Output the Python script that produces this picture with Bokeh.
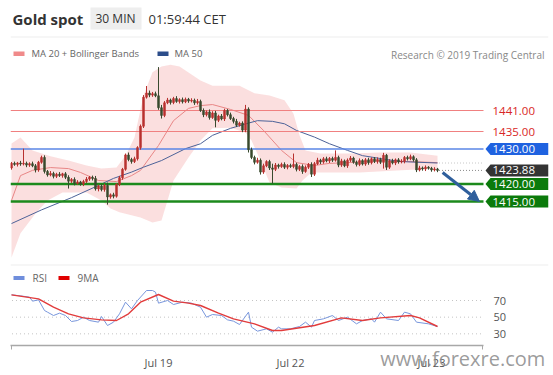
import numpy as np
from bokeh.plotting import figure
from bokeh.models import (ColumnDataSource, Range1d, FixedTicker, Label,
                          BoxAnnotation, Arrow, NormalHead)
from bokeh.embed import file_html
from bokeh.resources import INLINE
from bokeh.core.properties import value

FONT = "Open Sans"

# ---------------- data (30 min candles, index = bar number) ----------------
first_open = 1424.6
closes = [
    1425.9, 1425.6, 1426.0, 1425.7, 1425.9, 1425.4, 1425.8, 1425.2, 1424.0, 1426.2,
    1427.6, 1423.6, 1422.6, 1423.0, 1422.2, 1422.8, 1422.4, 1422.9, 1421.9, 1420.8,
    1421.3, 1420.2, 1420.6, 1420.0, 1420.7, 1421.4, 1421.9, 1421.6, 1418.6, 1419.4,
    1418.4, 1419.6, 1416.3, 1416.9, 1416.5, 1419.9, 1421.8, 1424.2, 1428.3, 1427.0,
    1426.4, 1427.2, 1430.4, 1436.5, 1444.8, 1446.0, 1445.4, 1445.8, 1445.2, 1441.8,
    1439.6, 1443.2, 1444.0, 1443.3, 1444.4, 1443.6, 1444.1, 1443.5, 1444.2, 1443.7,
    1443.9, 1443.2, 1443.6, 1441.0, 1439.8, 1440.6, 1439.0, 1440.3, 1438.2, 1439.4,
    1438.6, 1441.0, 1439.8, 1438.7, 1437.9, 1436.8, 1437.4, 1435.4, 1441.4, 1429.8,
    1427.6, 1426.2, 1426.8, 1423.4, 1425.2, 1426.4, 1424.6, 1424.2, 1425.4, 1425.0,
    1425.6, 1424.8, 1425.3, 1425.0, 1425.6, 1424.2, 1425.0, 1423.6, 1424.8, 1425.6,
    1422.8, 1425.8, 1426.8, 1426.3, 1427.2, 1426.6, 1427.3, 1426.8, 1427.6, 1425.4,
    1426.6, 1425.2, 1426.8, 1427.4, 1426.2, 1425.6, 1426.7, 1425.7, 1426.9, 1426.1,
    1427.2, 1426.4, 1427.0, 1426.2, 1428.2, 1424.8, 1426.6, 1426.0, 1426.9, 1426.3,
    1426.5, 1427.6, 1427.2, 1427.8, 1426.9, 1424.0, 1424.6, 1424.3, 1424.8, 1424.5,
    1424.0, 1424.3, 1423.88]
upper_wicks = [
    0.4, 0.5, 0.3, 0.6, 4.2, 0.5, 0.4, 0.6, 0.5, 0.4,
    0.5, 0.6, 0.4, 0.7, 0.5, 0.4, 0.6, 0.3, 0.5, 0.6,
    0.4, 0.6, 0.5, 0.3, 0.5, 0.6, 0.4, 0.5, 0.7, 0.4,
    0.6, 0.5, 0.8, 0.4, 0.6, 0.3, 0.5, 0.4, 0.4, 0.7,
    0.5, 0.6, 0.4, 0.5, 0.6, 2.0, 0.7, 0.5, 0.6, 8.2,
    0.8, 0.5, 0.6, 0.4, 0.5, 0.7, 0.4, 0.6, 0.5, 0.4,
    0.6, 0.5, 0.7, 0.5, 0.6, 0.4, 0.7, 0.5, 0.6, 0.4,
    0.6, 0.5, 0.4, 0.6, 0.5, 0.7, 0.4, 0.5, 1.2, 0.5,
    0.6, 0.5, 0.7, 0.5, 0.6, 0.4, 0.5, 1.2, 0.6, 0.4,
    0.5, 0.6, 0.4, 0.5, 3.1, 0.5, 0.4, 0.6, 0.5, 0.4,
    0.6, 0.5, 0.7, 0.4, 0.5, 0.6, 0.4, 0.5, 2.0, 0.5,
    0.6, 0.4, 0.5, 0.6, 0.4, 0.5, 0.6, 0.4, 0.5, 0.6,
    0.4, 0.5, 0.6, 0.5, 0.7, 0.4, 0.5, 0.6, 0.4, 0.5,
    0.6, 0.4, 0.5, 0.6, 0.4, 0.5, 0.6, 0.4, 0.5, 0.3,
    0.4, 0.5, 0.3]
lower_wicks = [
    0.5, 0.4, 0.6, 0.5, 0.4, 0.6, 0.5, 0.4, 0.7, 0.5,
    0.4, 0.6, 0.5, 0.4, 0.6, 0.5, 0.4, 0.6, 0.5, 2.1,
    0.5, 0.6, 0.4, 0.5, 0.6, 0.4, 0.5, 0.6, 0.5, 0.7,
    0.5, 0.6, 2.2, 0.5, 0.6, 0.4, 0.5, 0.6, 0.4, 0.5,
    0.6, 0.4, 0.5, 0.6, 0.5, 0.4, 0.6, 0.5, 0.4, 0.6,
    0.9, 0.5, 0.4, 0.6, 0.5, 0.4, 0.6, 0.5, 0.4, 0.5,
    0.4, 0.6, 0.5, 0.4, 0.7, 0.5, 0.6, 0.4, 2.0, 0.5,
    0.4, 0.6, 0.5, 0.4, 0.6, 0.5, 0.4, 0.6, 0.6, 0.8,
    0.5, 0.6, 0.4, 0.7, 0.5, 0.4, 0.6, 4.1, 0.5, 0.6,
    0.4, 0.5, 0.6, 0.4, 0.5, 0.6, 0.5, 0.7, 0.4, 0.5,
    0.8, 0.5, 0.4, 0.6, 0.5, 0.4, 0.6, 0.5, 0.4, 0.6,
    0.5, 0.4, 0.6, 0.5, 0.4, 0.6, 0.5, 0.4, 0.5, 0.6,
    0.5, 0.4, 0.6, 0.5, 1.8, 0.8, 0.5, 0.4, 0.6, 0.5,
    0.4, 0.6, 0.5, 0.4, 0.5, 0.6, 0.4, 0.5, 0.6, 0.4,
    0.5, 0.4, 0.5]

ma20_idx = [0, 3, 7, 13, 19, 23, 29, 35, 40, 43, 49, 54, 59, 63, 67, 73, 79, 84, 90, 95, 101, 106, 112, 123, 133, 142]
ma20 = [1415.3, 1422.4, 1423.9, 1424.7, 1424.4, 1423.3, 1421.0, 1420.7, 1422.4, 1423.9, 1431.0, 1438.1, 1441.6,
        1442.4, 1442.7, 1441.3, 1439.6, 1435.3, 1429.6, 1426.1, 1425.3, 1425.9, 1426.1, 1426.7, 1426.4, 1426.1]
bb_up_idx = [0, 3, 7, 13, 19, 25, 30, 35, 38, 41, 44, 47, 50, 53, 56, 63, 67, 76, 81, 86, 91, 94, 96, 98, 103, 113, 123, 133, 142]
bb_up = [1431.6, 1433.3, 1429.6, 1427.9, 1426.7, 1425.3, 1424.4, 1424.7, 1428.1, 1433.3, 1445.3, 1451.9, 1453.6, 1454.1,
         1453.6, 1449.6, 1448.1, 1448.1, 1445.9, 1445.3, 1443.9, 1440.1, 1433.9, 1429.6, 1428.7, 1428.7, 1429.0, 1429.0, 1428.1]
bb_lo_idx = [0, 3, 8, 12, 17, 25, 30, 33, 36, 43, 47, 50, 51, 54, 59, 63, 67, 73, 78, 80, 83, 86, 90, 95, 97, 100, 106, 116, 130, 142]
bb_lo = [1399.0, 1405.9, 1411.6, 1415.3, 1417.6, 1417.6, 1415.3, 1413.0, 1411.9, 1410.4, 1409.0, 1409.6, 1412.4, 1421.0,
         1427.6, 1432.4, 1435.9, 1436.1, 1434.7, 1432.4, 1426.7, 1420.4, 1419.0, 1418.7, 1421.0, 1423.3, 1423.3, 1423.3, 1423.9, 1424.4]
ma50_idx = [0, 10, 20, 29, 34, 40, 44, 50, 58, 63, 67, 73, 79, 82, 87, 91, 95, 101, 106, 112, 117, 125, 130, 142]
ma50 = [1408.7, 1412.6, 1416.1, 1419.6, 1421.6, 1423.4, 1424.8, 1426.7, 1430.1, 1431.5, 1433.9, 1435.9, 1437.4, 1438.1,
        1437.9, 1437.2, 1435.3, 1433.4, 1431.5, 1429.6, 1428.1, 1427.0, 1426.4, 1426.0]

rsi_idx = [0, 3, 6, 7, 9, 11, 12, 14, 16, 18, 20, 22, 24, 26, 29, 30, 32, 34, 36, 38, 40, 42, 45, 47, 48, 49, 52, 54, 57, 60,
           63, 65, 67, 70, 72, 74, 76, 79, 80, 82, 85, 87, 89, 90, 93, 96, 98, 100, 101, 104, 107, 109, 112, 115, 117, 120,
           121, 123, 125, 129, 131, 133, 135, 139, 142]
rsi = [76.8, 75.6, 74, 69.2, 70.8, 58, 56, 52, 54.8, 52, 44.8, 46, 50, 46, 44, 50.8, 40, 44, 54, 68, 60, 70, 82, 82, 80, 66.8,
       70, 65.2, 68, 66.8, 62, 50, 53.2, 52, 46.8, 45.2, 41.2, 56, 38, 33.2, 36, 32, 38, 36, 36, 38.8, 44, 38, 46, 48, 52, 46,
       50, 42, 46, 48, 44, 56, 48, 46, 56, 54, 44, 42, 38.8]
rsi_ma_idx = [0, 9, 14, 19, 24, 30, 35, 39, 43, 49, 54, 59, 63, 69, 74, 81, 87, 90, 101, 110, 117, 123, 133, 136, 142]
rsi_ma = [76.8, 72, 62, 54, 49.2, 46.8, 46, 54, 68, 77.2, 69.2, 66.8, 64, 54.8, 48, 42, 34, 34, 40, 49.2, 46, 49.2, 52, 49.2, 38.8]
rsi_levels = [70, 50, 30]

day_ticks = [49, 93, 140]
day_labels = ["Jul 19", "Jul 22", "Jul 23"]

resistances = [1441.0, 1435.0]
pivot = 1430.0
supports = [1420.0, 1415.0]
last_price = 1423.88
forecast_from = (143.7, 1423.3)
forecast_to = (156.0, 1415.0)

# ---------------- layout constants ----------------
W, H = 553, 375
BORDER_L, BORDER_R, BORDER_T, BORDER_B = 10, 5, 0, 30
FRAME_H = H - BORDER_T - BORDER_B
PX_PER_BAR = 3.0
x_start = -1 / 3
x_end = x_start + (W - BORDER_L - BORDER_R) / PX_PER_BAR
chart_end = x_start + 473 / PX_PER_BAR
price_range = (1373.857, 1472.429)
rsi_range = (16, 430)
price_per_px = (price_range[1] - price_range[0]) / FRAME_H
FL, FB = BORDER_L, H - BORDER_B     # frame left / bottom in page pixels (for screen-unit labels)

UP, DOWN = "#b8312f", "#394a2e"

p = figure(width=W, height=H, output_backend="svg", toolbar_location=None,
           x_range=Range1d(x_start, x_end), y_range=Range1d(*price_range),
           y_axis_location=None, min_border_left=BORDER_L, min_border_right=BORDER_R,
           min_border_top=BORDER_T, min_border_bottom=BORDER_B)
p.extra_y_ranges = {"rsi": Range1d(*rsi_range)}
p.xgrid.visible = False
p.ygrid.visible = False
p.outline_line_color = None
p.background_fill_color = "white"
p.border_fill_color = "white"

ax = p.xaxis[0]
ax.ticker = FixedTicker(ticks=day_ticks, minor_ticks=[x_start + 0.2, chart_end - 0.2])
ax.major_label_overrides = {t: l for t, l in zip(day_ticks, day_labels)}
ax.bounds = (x_start, chart_end)
ax.axis_line_color = "#a8a8a8"
ax.axis_line_width = 1.5
ax.major_tick_line_color = None
ax.major_tick_in = 0
ax.major_tick_out = 0
ax.minor_tick_line_color = "#a8a8a8"
ax.minor_tick_in = 0
ax.minor_tick_out = 4
ax.major_label_text_font = FONT
ax.major_label_text_font_size = "11px"
ax.major_label_text_color = "#555555"
ax.major_label_standoff = 5
# watermark shown under the axis (centred on the axis end; trailing blanks shift it left)
ax.axis_label = "www.forexre.com" + "\u00a0" * 33
ax.axis_label_text_font = FONT
ax.axis_label_text_font_size = "20px"
ax.axis_label_text_font_style = "normal"
ax.axis_label_text_color = "#8a8a8a"
ax.axis_label_text_alpha = 0.85
ax.axis_label_standoff = -28
ax.axis_label_align = "end"

# ---------------- Bollinger band + MAs ----------------
p.patch(bb_up_idx + bb_lo_idx[::-1], bb_up + bb_lo[::-1], fill_color="#f4a3a3", fill_alpha=0.35, line_color=None)
p.line(ma20_idx, ma20, line_color="#e88686", line_width=1)
p.line(ma50_idx, ma50, line_color="#4c6298", line_width=1)

# ---------------- horizontal levels ----------------
lvl_y = resistances + [pivot] + supports
lvl_col = ["#f08080", "#f08080", "#5a86e6", "#1c8a1c", "#1c8a1c"]
lvl_w = [1, 1, 1.6, 2.5, 2.5]
for yv, c, w in zip(lvl_y, lvl_col, lvl_w):
    p.segment(x0=[x_start], y0=[yv], x1=[chart_end], y1=[yv], line_color=c, line_width=w)

# dotted extensions
p.segment(x0=[len(closes) - 0.5], y0=[last_price], x1=[chart_end], y1=[last_price],
          line_color="#8a8a8a", line_dash="1 2", line_width=1)
p.segment(x0=[len(closes) - 0.5], y0=[ma50[-1]], x1=[chart_end], y1=[ma50[-1]],
          line_color="#c8c8c8", line_dash="1 2", line_width=1)

# ---------------- candles ----------------
n = len(closes)
opens = [first_open] + closes[:-1]
highs = [max(o, c) + u for o, c, u in zip(opens, closes, upper_wicks)]
lows = [min(o, c) - l for o, c, l in zip(opens, closes, lower_wicks)]
cols = [UP if c >= o else DOWN for o, c in zip(opens, closes)]
src = ColumnDataSource(dict(i=list(range(n)), o=opens, c=closes, h=highs, l=lows,
                            top=[max(o, c) for o, c in zip(opens, closes)],
                            bot=[min(o, c) for o, c in zip(opens, closes)], col=cols))
p.segment(x0="i", y0="h", x1="i", y1="l", source=src, line_color="col", line_width=1)
p.vbar(x="i", width=0.66, top="top", bottom="bot", source=src, fill_color="col", line_color="col", line_width=0.5)

# ---------------- forecast arrow ----------------
arrow_col = "#2f5f9c"
p.add_layout(Arrow(end=NormalHead(size=11, fill_color=arrow_col, line_color=arrow_col),
                   x_start=forecast_from[0], y_start=forecast_from[1],
                   x_end=forecast_to[0], y_end=forecast_to[1],
                   line_color=arrow_col, line_width=3))

# ---------------- price tags ----------------
tag_vals = [pivot, last_price] + supports
tag_cols = ["#1f62e0", "#333333", "#0b7a0b", "#0b7a0b"]
tip_x = chart_end + 2 / PX_PER_BAR
box_x0 = chart_end + 7 / PX_PER_BAR
hh = 6 * price_per_px
xs, ys = [], []
for v in tag_vals:
    xs.append([tip_x, box_x0, x_end, x_end, box_x0])
    ys.append([v, v + hh, v + hh, v - hh, v - hh])
p.patches(xs, ys, fill_color=tag_cols, line_color=None)
txt_x = chart_end + 9 / PX_PER_BAR
p.text(x=[txt_x] * len(tag_vals), y=tag_vals, text=[f"{v:.2f}" for v in tag_vals],
       text_color="white", text_font=value(FONT), text_font_size="11.5px",
       text_baseline="middle", text_align="left")
p.text(x=[txt_x] * len(resistances), y=resistances, text=[f"{v:.2f}" for v in resistances],
       text_color="#d92626", text_font=value(FONT), text_font_size="11.5px",
       text_baseline="middle", text_align="left")

# ---------------- RSI panel ----------------
for lv in rsi_levels:
    p.segment(x0=[x_start + 0.5], y0=[lv], x1=[chart_end - 0.5], y1=[lv], y_range_name="rsi",
              line_color="#c4c4c4", line_dash="1 3", line_width=1)
p.line(rsi_idx, rsi, y_range_name="rsi", line_color="#7896dc", line_width=1)
p.line(rsi_ma_idx, rsi_ma, y_range_name="rsi", line_color="#e23c3c", line_width=1.4)
p.text(x=[chart_end + 10 / PX_PER_BAR] * 3, y=rsi_levels, text=[str(v) for v in rsi_levels],
       y_range_name="rsi", text_color="#555555", text_font=value(FONT), text_font_size="11px",
       text_baseline="middle", text_align="left")


# ---------------- header, legends, decorations (screen units, frame relative) ----------------
def label(text, X, Y, size, color, bold=False, align="left", alpha=1.0):
    p.add_layout(Label(x=X - FL, y=FB - Y, x_units="screen", y_units="screen", text=text,
                       text_font=FONT, text_font_size=size, text_color=color, text_alpha=alpha,
                       text_font_style="bold" if bold else "normal",
                       text_align=align, text_baseline="middle"))


def box(X0, X1, Y0, Y1, fill=None, line=None):
    p.add_layout(BoxAnnotation(left=X0 - FL, right=X1 - FL, top=FB - Y0, bottom=FB - Y1,
                               left_units="screen", right_units="screen",
                               top_units="screen", bottom_units="screen",
                               fill_color=fill, fill_alpha=1.0 if fill else 0.0,
                               line_color=line, line_alpha=1.0 if line else 0.0, line_width=1))


box(90, 141, 7, 29, fill="#eeeeee")
box(10, 548, 36, 37, fill="#ededed")
box(10, 548, 264, 265, fill="#ededed")
label("Gold spot", 12, 18, "15px", "#333333", bold=True)
label("30 MIN", 95, 18, "12px", "#333333")
label("01:59:44 CET", 148, 18, "13px", "#333333")

box(13, 24, 51, 55.5, fill="#f08a8a")
label("MA 20 + Bollinger Bands", 31, 53, "9.5px", "#666666")
box(157, 168, 51, 55.5, fill="#2c4d8a")
label("MA 50", 174, 53, "9.5px", "#666666")
label("Research \u00a9 2019 Trading Central", 544, 54, "10px", "#888888", align="right")

box(13, 24, 275.5, 279.5, fill="#6f8edc")
label("RSI", 32, 277, "10px", "#666666")
box(58, 69, 275.5, 279.5, fill="#e00000")
label("9MA", 77, 277, "10px", "#666666")

open("out.html", "w").write(file_html(p, INLINE))
